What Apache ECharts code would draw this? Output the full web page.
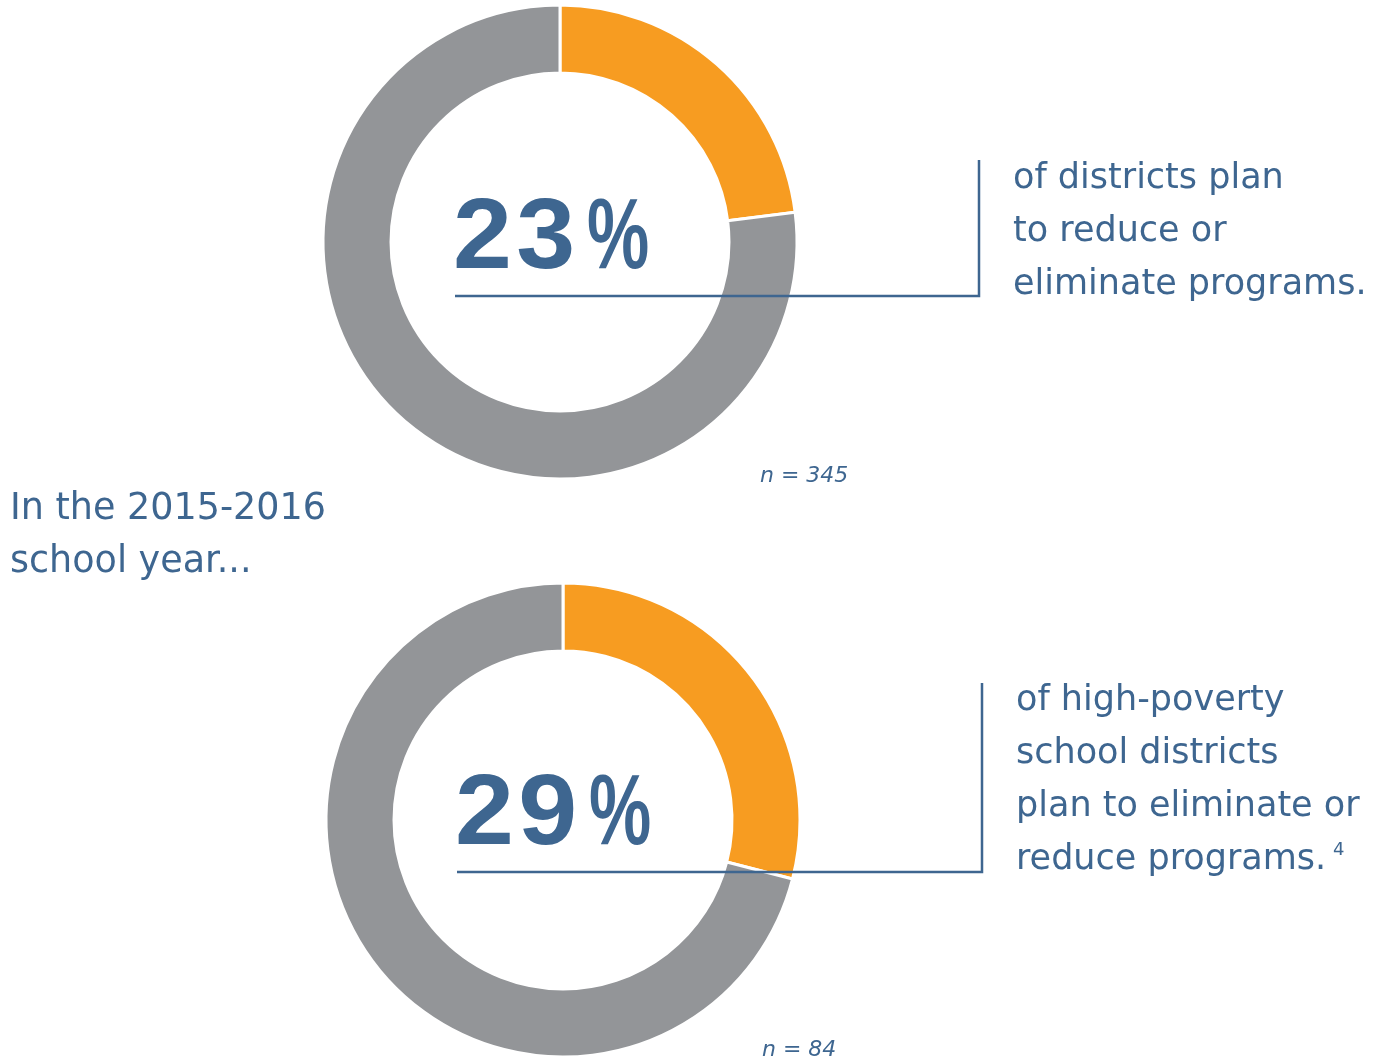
<!DOCTYPE html>
<html>
<head>
<meta charset="utf-8">
<title>Districts plan to reduce programs</title>
<script src="https://cdn.jsdelivr.net/npm/echarts@6/dist/echarts.min.js"></script>
<style>
  html, body { margin: 0; padding: 0; background: #fff; }
  #chart { width: 1387px; height: 1063px; }
</style>
</head>
<body>
<div id="chart"></div>
<script>
// data
const shares = [23, 29];          // orange slice, percent of districts
const rest = [77, 71];            // grey remainder
const sampleSizes = [345, 84];
const captions = [
  ['of districts plan', 'to reduce or', 'eliminate programs.'],
  ['of high-poverty', 'school districts', 'plan to eliminate or', 'reduce programs.']
];
const footnotes = [null, '4'];
const introText = ['In the 2015-2016', 'school year...'];

const blue = '#3e6690';
const orange = '#f79c21';
const grey = '#939598';
const font = '"DejaVu Sans", sans-serif';
const bigFont = 'bold 100px "Liberation Sans", Arial, sans-serif';

// layout of the two donuts
const centers = [[560, 242], [563, 820]];
const bracket = [
  { x0: 455, x1: 979, y: 296, top: 160, textX: 1013, textY: 152, pctY: 190 },
  { x0: 457, x1: 982, y: 872, top: 683, textX: 1016, textY: 674, pctY: 766 }
];
const nPos = [[760, 476], [762, 1050]];
const supPos = [null, [1333, 850]];

const chart = echarts.init(document.getElementById('chart'));

const series = shares.map((s, i) => ({
  type: 'pie',
  center: centers[i],
  radius: [169, 237],
  startAngle: 90,
  clockwise: true,
  silent: true,
  label: { show: false },
  labelLine: { show: false },
  itemStyle: { borderColor: '#fff', borderWidth: 3 },
  data: [
    { value: s, name: 'plan', itemStyle: { color: orange } },
    { value: rest[i], name: 'other', itemStyle: { color: grey } }
  ]
}));

const graphic = [];
shares.forEach((s, i) => {
  const b = bracket[i];
  // big number, slightly widened and spaced
  graphic.push({
    type: 'text', z: 10,
    x: b.x0 - 4, y: b.pctY, scaleX: 1.06,
    style: {
      text: String(s).split('').map(d => '{d|' + d + '}').join(''),
      verticalAlign: 'top',
      rich: { d: { font: bigFont, fill: blue, padding: [0, 2, 0, 2] } }
    }
  });
  // percent sign, narrower and lighter
  graphic.push({
    type: 'text', z: 10,
    x: b.x0 + 132, y: b.pctY, scaleX: 0.7,
    style: { text: '%', font: bigFont, fill: blue, verticalAlign: 'top' }
  });
  // bracket line
  graphic.push({
    type: 'polyline', z: 10,
    shape: { points: [[b.x0, b.y], [b.x1, b.y], [b.x1, b.top]] },
    style: { stroke: blue, lineWidth: 2.5, fill: null }
  });
  // caption
  graphic.push({
    type: 'text', z: 10,
    x: b.textX, y: b.textY,
    style: {
      text: captions[i].join('\n'),
      font: '35px ' + font,
      fill: blue,
      lineHeight: 53,
      verticalAlign: 'top'
    }
  });
  if (footnotes[i]) {
    graphic.push({
      type: 'text', z: 10,
      x: supPos[i][0], y: supPos[i][1],
      style: { text: footnotes[i], font: '18px ' + font, fill: blue, verticalAlign: 'middle' }
    });
  }
  // sample size
  graphic.push({
    type: 'text', z: 10,
    x: nPos[i][0], y: nPos[i][1],
    style: { text: 'n = ' + sampleSizes[i], font: 'italic 22px ' + font, fill: blue, verticalAlign: 'middle' }
  });
});

graphic.push({
  type: 'text', z: 10,
  x: 10, y: 483,
  style: { text: introText.join('\n'), font: '36.5px ' + font, fill: blue, lineHeight: 53, verticalAlign: 'top' }
});

chart.setOption({
  animation: false,
  backgroundColor: '#fff',
  series: series,
  graphic: graphic
});
</script>
</body>
</html>
